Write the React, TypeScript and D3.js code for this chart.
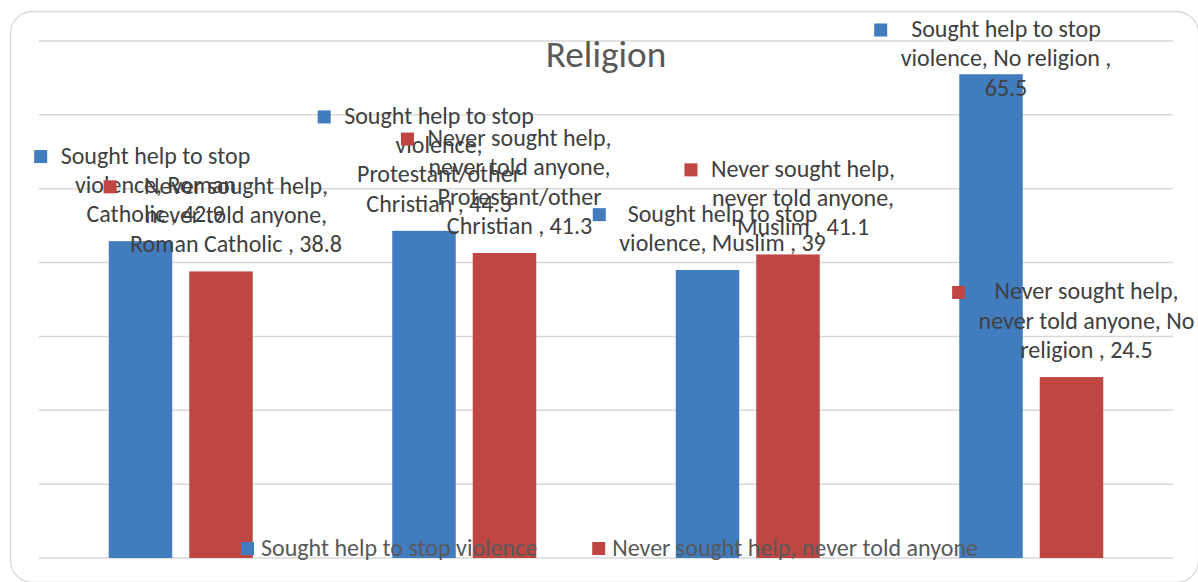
import React, { useEffect, useRef } from "react";
import * as d3 from "d3";

// Share of women by religion who sought help vs. never told anyone
const categories = ["Roman Catholic", "Protestant/other Christian", "Muslim", "No religion"];
const seriesNames = ["Sought help to stop violence", "Never sought help, never told anyone"];
const soughtHelp = [42.9, 44.3, 39, 65.5];
const neverSought = [38.8, 41.3, 41.1, 24.5];
const yTicks = [0, 10, 20, 30, 40, 50, 60, 70];
const chartTitle = "Religion";

const W = 1198;
const H = 582;
const FONT = "Carlito, Calibri, 'Open Sans', sans-serif";
const COLORS = ["#417cbe", "#c04644"];
const plot = { left: 39, right: 1173, top: 41, bottom: 558 };
const BAR_W = 63.5;
const BAR_GAP = 17;
const LABEL_SIZE = 24;
const LINE_H = 29.3;
const WRAP_AT = 222;

export default function App() {
  const ref = useRef<SVGSVGElement | null>(null);

  useEffect(() => {
    const svg = d3.select(ref.current);
    svg.selectAll("*").remove();

    const y = d3.scaleLinear().domain([0, 70]).range([plot.bottom, plot.top]);
    const x0 = d3.scaleBand<string>().domain(categories).range([plot.left, plot.right]);
    const step = x0.bandwidth();
    const groupW = 2 * BAR_W + BAR_GAP;
    const x1 = d3
      .scaleBand<string>()
      .domain(seriesNames)
      .range([(step - groupW) / 2, (step + groupW) / 2])
      .paddingInner(BAR_GAP / (BAR_W + BAR_GAP))
      .paddingOuter(0);

    // chart frame
    svg
      .append("rect")
      .attr("x", 10.5)
      .attr("y", 11.5)
      .attr("width", 1188)
      .attr("height", 571)
      .attr("rx", 22)
      .attr("fill", "#ffffff")
      .attr("stroke", "#d9d9d9")
      .attr("stroke-width", 1.3);

    // horizontal gridlines
    svg
      .append("g")
      .selectAll("line")
      .data(yTicks)
      .join("line")
      .attr("x1", plot.left)
      .attr("x2", plot.right)
      .attr("y1", (d) => y(d))
      .attr("y2", (d) => y(d))
      .attr("stroke", "#d9d9d9")
      .attr("stroke-width", 1.5);

    const seriesValues = [soughtHelp, neverSought];
    const points = seriesNames.flatMap((s, si) =>
      categories.map((c, ci) => ({ s, si, c, v: seriesValues[si][ci] }))
    );

    // bars
    svg
      .append("g")
      .selectAll("rect")
      .data(points)
      .join("rect")
      .attr("x", (d) => (x0(d.c) as number) + (x1(d.s) as number))
      .attr("y", (d) => y(d.v))
      .attr("width", x1.bandwidth())
      .attr("height", (d) => y(0) - y(d.v))
      .attr("fill", (d) => COLORS[d.si]);

    // text measurement helper
    const probe = svg
      .append("text")
      .attr("font-family", FONT)
      .attr("font-size", LABEL_SIZE)
      .attr("visibility", "hidden");
    const measure = (t: string) => {
      probe.text(t);
      return (probe.node() as SVGTextElement).getComputedTextLength();
    };
    const wrap = (t: string) => {
      const words = t.split(" ");
      const lines: string[] = [];
      let cur = "";
      words.forEach((w) => {
        const next = cur ? cur + " " + w : w;
        if (cur && measure(next) > WRAP_AT) {
          lines.push(cur);
          cur = w;
        } else cur = next;
      });
      if (cur) lines.push(cur);
      return lines;
    };

    // data callouts with series key
    const labels = svg.append("g");
    points.forEach((d) => {
      const lines = wrap(`${d.s}, ${d.c} , ${d.v}`);
      const cx = (x0(d.c) as number) + (x1(d.s) as number) + BAR_W / 2;
      const lastY = y(d.v) - 26;
      let firstY = lastY - (lines.length - 1) * LINE_H;
      if (firstY < 30) firstY = 30;
      const tx = cx + 15;
      const maxW = d3.max(lines, (l) => measure(l)) as number;
      labels
        .append("rect")
        .attr("x", tx - maxW / 2 - 26.5)
        .attr("y", firstY - 6.5)
        .attr("width", 13)
        .attr("height", 13)
        .attr("fill", COLORS[d.si]);
      lines.forEach((l, li) => {
        labels
          .append("text")
          .attr("x", tx)
          .attr("y", firstY + li * LINE_H)
          .attr("dy", "0.29em")
          .attr("text-anchor", "middle")
          .attr("font-family", FONT)
          .attr("font-size", LABEL_SIZE)
          .attr("fill", "#404040")
          .text(l);
      });
    });

    // legend
    const legendW = seriesNames.reduce((acc, s) => acc + 13 + 7 + measure(s), 0) + 55;
    let lx = 609.5 - legendW / 2;
    const legend = svg.append("g");
    seriesNames.forEach((s, si) => {
      legend
        .append("rect")
        .attr("x", lx)
        .attr("y", 542)
        .attr("width", 13)
        .attr("height", 13)
        .attr("fill", COLORS[si]);
      legend
        .append("text")
        .attr("x", lx + 20)
        .attr("y", 549)
        .attr("dy", "0.29em")
        .attr("font-family", FONT)
        .attr("font-size", LABEL_SIZE)
        .attr("fill", "#595959")
        .text(s);
      lx += 13 + 7 + measure(s) + 55;
    });

    // title
    svg
      .append("text")
      .attr("x", 606)
      .attr("y", 67)
      .attr("text-anchor", "middle")
      .attr("font-family", FONT)
      .attr("font-size", 37.3)
      .attr("fill", "#595959")
      .text(chartTitle);

    probe.remove();
  }, []);

  return (
    <svg
      ref={ref}
      width={W}
      height={H}
      style={{ position: "absolute", left: 0, top: 0, display: "block" }}
    />
  );
}
